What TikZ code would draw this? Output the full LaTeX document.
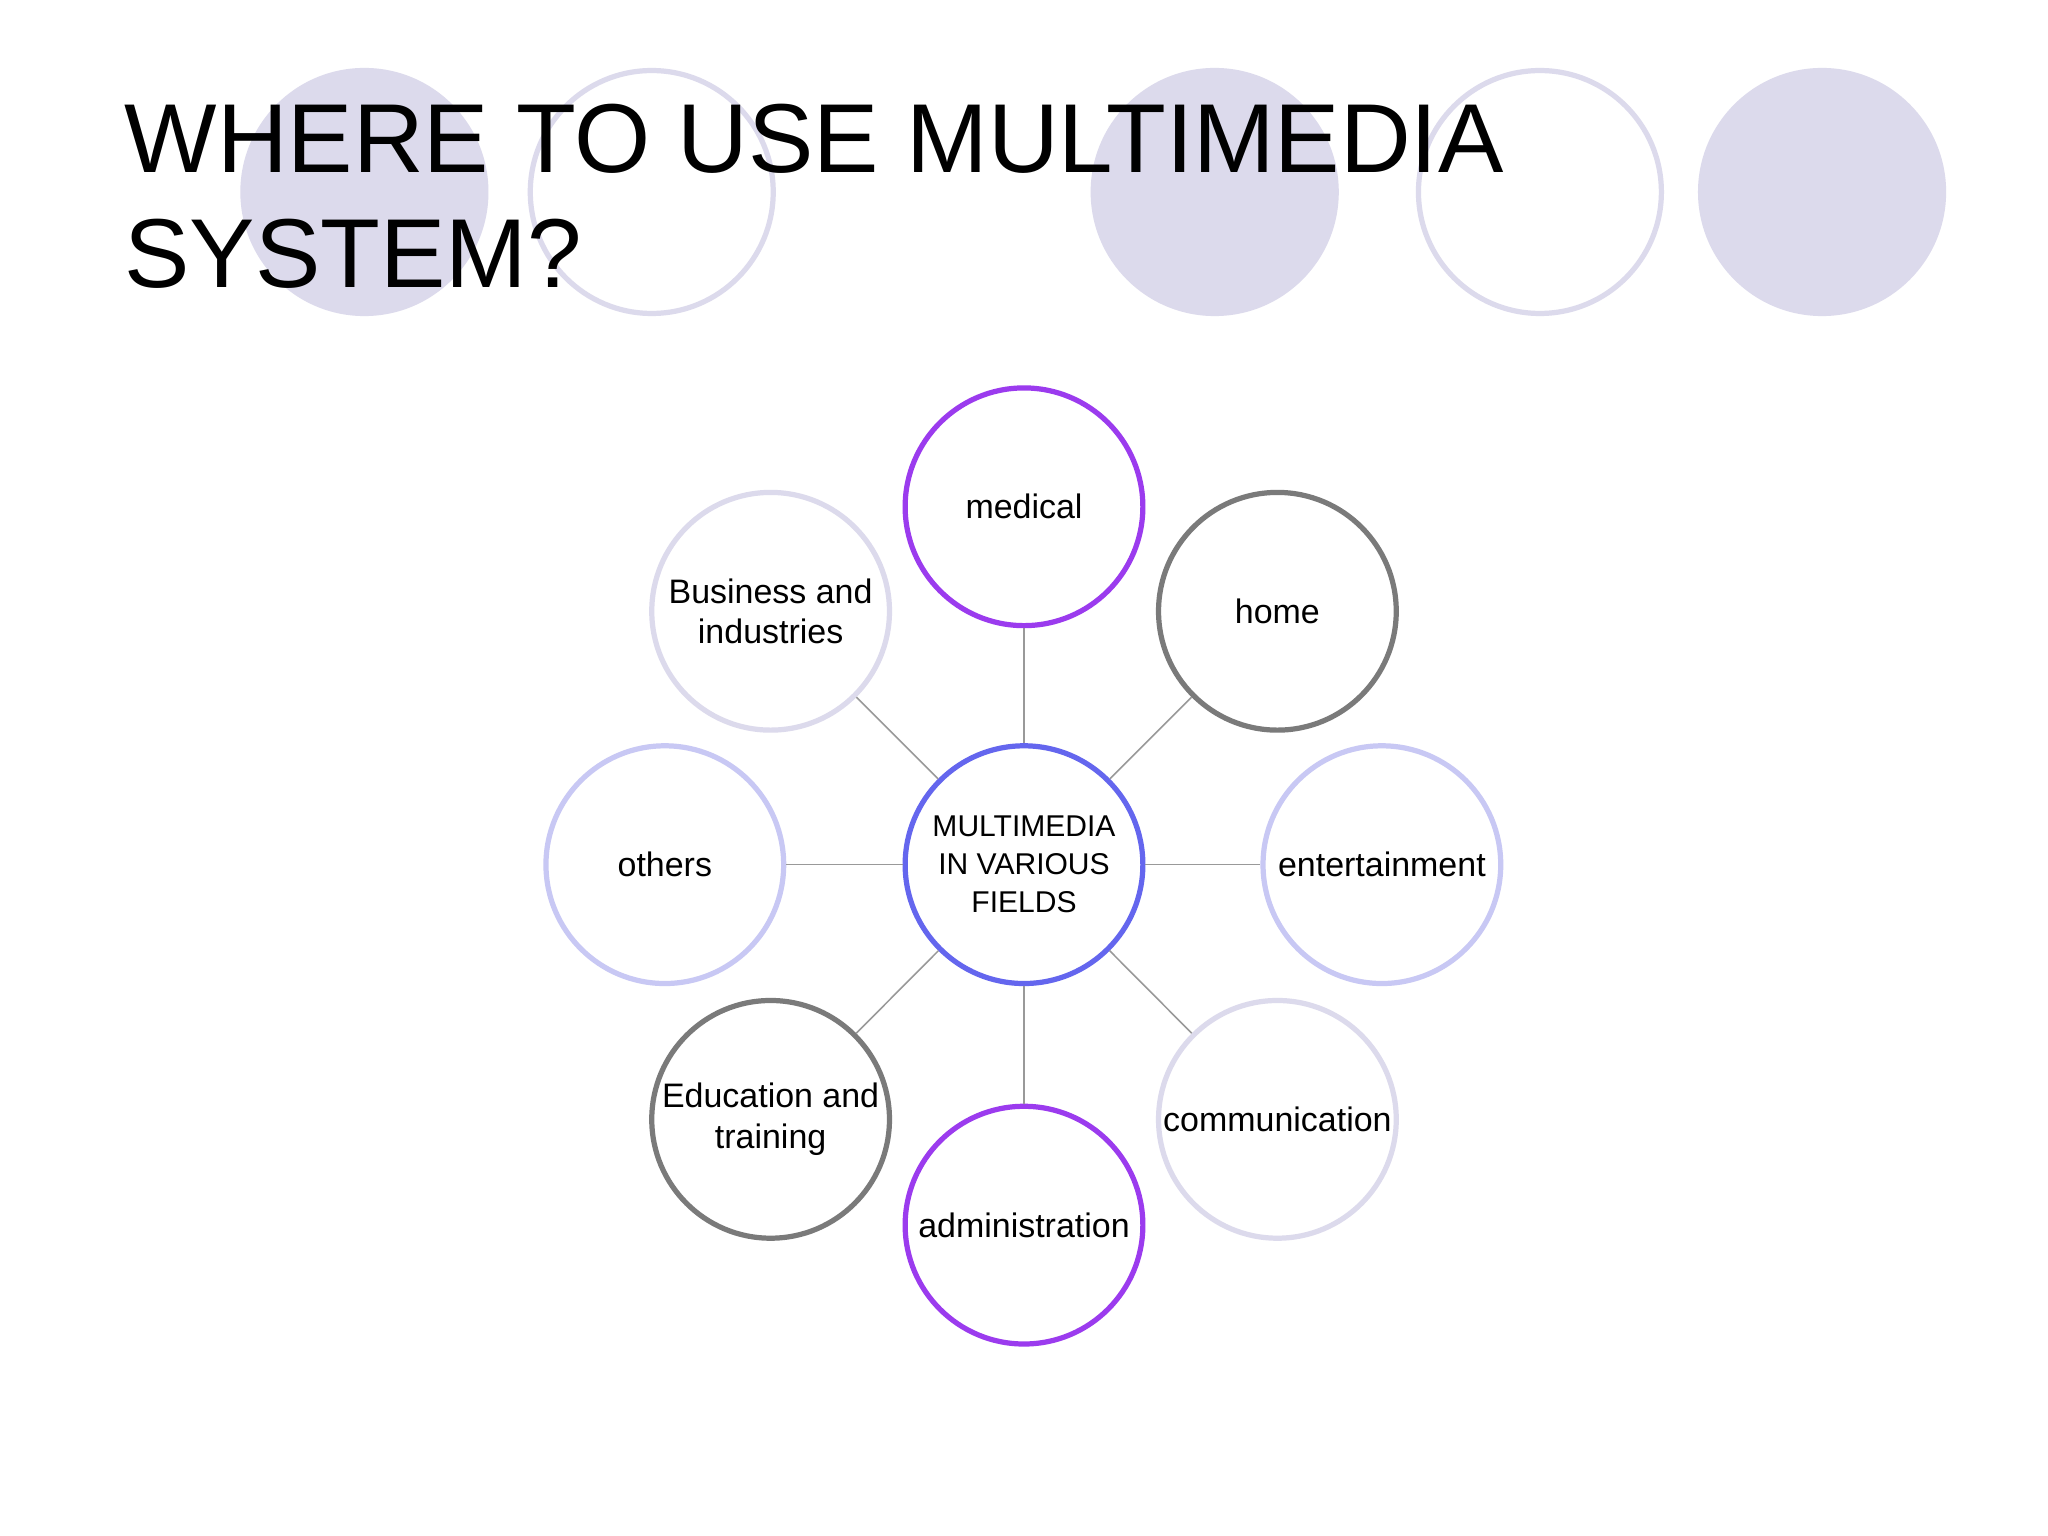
\documentclass[tikz,border=0pt]{standalone}
\usepackage{fontspec}
\setmainfont{Liberation Sans}
\begin{document}
\begin{tikzpicture}[x=0.5pt,y=-0.5pt,
  bg/.style={circle,minimum size=95pt,inner sep=0pt},
  fld/.style={circle,minimum size=91pt,inner sep=0pt,line width=2pt,align=center,font=\fontsize{13}{15.5}\selectfont,fill=white},
  conn/.style={draw=gray!80,line width=0.6pt}]
\definecolor{lav}{HTML}{DCDAEC}
\definecolor{peri}{HTML}{C8C8F4}
\definecolor{purp}{HTML}{9B3BEE}
\definecolor{gr}{HTML}{7A7A7A}
\definecolor{blu}{HTML}{6466EE}
\useasboundingbox (0,0) rectangle (1568,1176);
\fill[white] (0,0) rectangle (1568,1176);
\node[bg,fill=lav] (b1) at (279,147) {};
\node[bg,draw=lav,line width=2pt,minimum size=93pt] (b2) at (499,147) {};
\node[bg,fill=lav] (b3) at (930,147) {};
\node[bg,draw=lav,line width=2pt,minimum size=93pt] (b4) at (1179,147) {};
\node[bg,fill=lav] (b5) at (1395,147) {};
\node[anchor=base west,font=\fontsize{37.5}{44}\selectfont,inner sep=0pt] (t1) at (95,132) {WHERE TO USE MULTIMEDIA};
\node[anchor=base west,font=\fontsize{37.5}{44}\selectfont,inner sep=0pt] (t2) at (95,220) {SYSTEM?};
\node[fld,draw=blu,font=\fontsize{11.5}{14.5}\selectfont] (c) at (784,662) {MULTIMEDIA\\IN VARIOUS\\FIELDS};
\node[fld,draw=purp] (med) at (784,388) {medical};
\node[fld,draw=gr] (home) at (978,468) {home};
\node[fld,draw=lav] (bus) at (590,468) {Business and\\industries};
\node[fld,draw=peri] (ent) at (1058,662) {entertainment};
\node[fld,draw=peri] (oth) at (509,662) {others};
\node[fld,draw=lav] (com) at (978,857) {communication};
\node[fld,draw=gr] (edu) at (590,857) {Education and\\training};
\node[fld,draw=purp] (adm) at (784,938) {administration};
\foreach \n in {med,home,bus,ent,oth,com,edu,adm} \draw[conn] (c) -- (\n);
\end{tikzpicture}
\end{document}
